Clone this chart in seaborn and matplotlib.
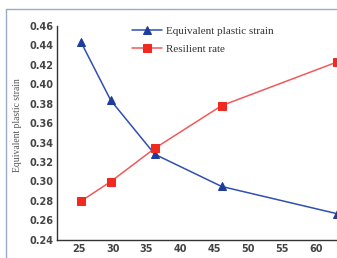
import matplotlib
matplotlib.use("Agg")
import matplotlib.pyplot as plt
import seaborn as sns
import pandas as pd
from matplotlib.lines import Line2D

x_vals = [25.3, 29.7, 36.2, 46.1, 63.2]
plastic_strain = [0.4435, 0.3835, 0.328, 0.2948, 0.2667]
resilient_rate = [0.2797, 0.2998, 0.334, 0.378, 0.423]
series_names = ["Equivalent plastic strain", "Resilient rate"]
y_ticks = [0.24, 0.26, 0.28, 0.30, 0.32, 0.34, 0.36, 0.38, 0.40, 0.42, 0.44, 0.46]
x_ticks = [25, 30, 35, 40, 45, 50, 55, 60]

df = pd.concat([
    pd.DataFrame({"x": x_vals, "y": plastic_strain, "series": series_names[0]}),
    pd.DataFrame({"x": x_vals, "y": resilient_rate, "series": series_names[1]}),
])

sns.set_style("white")
fig = plt.figure(figsize=(3.37, 2.58), dpi=100)
ax = fig.add_axes([57.3 / 337, 18.3 / 258, 0.887, 213.7 / 258])

line_colors = {series_names[0]: "#3050b0", series_names[1]: "#f05a5a"}
marker_colors = {series_names[0]: "#1e3c9c", series_names[1]: "#f02a20"}
markers = {series_names[0]: "^", series_names[1]: "s"}
msizes = {series_names[0]: 6.3, series_names[1]: 5.6}

for name in series_names:
    sub = df[df["series"] == name]
    sns.lineplot(data=sub, x="x", y="y", ax=ax, color=line_colors[name],
                 marker=markers[name], markersize=msizes[name],
                 markerfacecolor=marker_colors[name], markeredgecolor=marker_colors[name],
                 linewidth=1.1, label=name)

ax.set_xlim(21.8, 66)
ax.set_ylim(0.24, 0.46)
ax.set_xticks(x_ticks)
ax.set_yticks(y_ticks)
ax.set_xticklabels([str(t) for t in x_ticks])
ax.set_yticklabels([f"{t:.2f}" for t in y_ticks])
ax.set_xlabel("")
ax.set_ylabel("Equivalent plastic strain", family="Liberation Serif", fontsize=6.9,
              color="#555555")
ax.yaxis.set_label_coords(22 / 337, 1 - 125 / 258, transform=fig.transFigure)
for s in ["top", "right"]:
    ax.spines[s].set_visible(False)
for s in ["left", "bottom"]:
    ax.spines[s].set_color("#333333")
    ax.spines[s].set_linewidth(1.0)
ax.tick_params(axis="both", direction="in", length=3.5, width=0.8, colors="#333333",
               labelsize=7, labelcolor="#444444", pad=3)
for lab in ax.get_xticklabels() + ax.get_yticklabels():
    lab.set_fontweight("bold")

leg = ax.legend(loc="upper left", bbox_to_anchor=(128 / 337, 1 - 22 / 258),
                bbox_transform=fig.transFigure, frameon=False,
                prop={"family": "Liberation Serif", "size": 8},
                handlelength=2.7, handletextpad=0.3, labelspacing=0.7, borderaxespad=0)
for t in leg.get_texts():
    t.set_color("#333333")

fig.add_artist(Line2D([6 / 337, 6 / 337], [0, 1 - 9 / 258], transform=fig.transFigure,
                      color="#9aaac8", linewidth=1.0))
fig.add_artist(Line2D([6 / 337, 1], [1 - 9 / 258, 1 - 9 / 258], transform=fig.transFigure,
                      color="#9aaac8", linewidth=1.0))

fig.savefig("out.png", dpi=100)
